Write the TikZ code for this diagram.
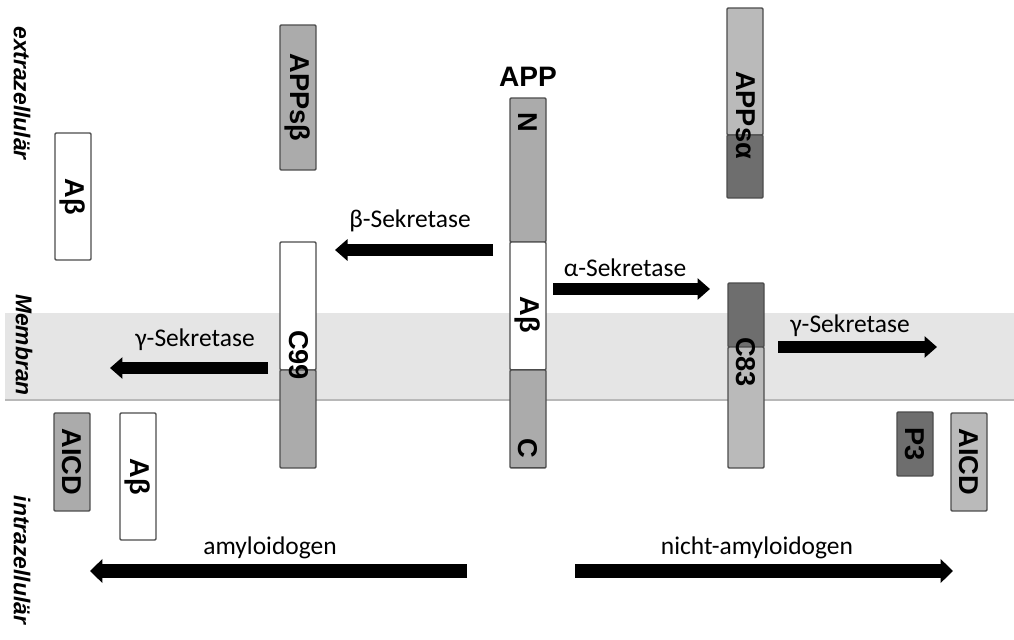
\documentclass[tikz,border=0pt]{standalone}
\usepackage{fontspec}
\setmainfont{Carlito}
\setsansfont{Liberation Sans}
\usetikzlibrary{arrows.meta}
\usetikzlibrary{positioning}
\tikzset{seg/.style = {draw=black!70, line width=0.8pt, rounded corners=0.6pt,
                       inner sep=0pt, outer sep=0pt, minimum width=0.72cm},
         midgray/.style = {seg, fill=black!33},
         lightgray/.style = {seg, fill=black!27},
         darkgray/.style = {seg, fill=black!57},
         whitebox/.style = {seg, fill=white},
         boxtext/.style = {font=\sffamily\bfseries\fontsize{15.5}{15.5}\selectfont,
                           rotate=-90, inner sep=0pt},
         zone/.style = {font=\sffamily\bfseries\itshape\fontsize{13}{13}\selectfont,
                        rotate=-90, inner sep=0pt},
         enz/.style = {font=\fontsize{14.5}{15}\selectfont, inner sep=0pt},
         fat/.style = {line width=6.4pt, -{Triangle[width=0.42cm,length=0.25cm]}},
         fatter/.style = {line width=7.8pt, -{Triangle[width=0.47cm,length=0.25cm]}}}

\begin{document}
\begin{tikzpicture}[x=0.02cm, y=-0.02cm]
      \useasboundingbox (0,0) rectangle (1014,639);

      % membrane band
      \fill [black!10] (5,313) rectangle (1014,400);
      \draw [black!28, line width=0.8pt] (5,400) -- (1014,400);

      \node [zone] (extra) at (22,93) {extrazellulär};
      \node [zone] (membran) at (24,345) {Membran};
      \node [zone] (intra) at (22,560) {intrazellulär};

      % APP
      \node [font=\sffamily\bfseries\fontsize{16}{16}\selectfont] (applabel) at (528,77) {APP};
      \node [midgray, minimum height=2.88cm, anchor=north west] (appN) at (510,98) {};
      \node [whitebox, minimum height=2.56cm, below=0pt of appN] (appAb) {};
      \node [midgray, minimum height=1.96cm, below=0pt of appAb] (appC) {};
      \node [boxtext] (appNtext) at (528,122) {N};
      \node [boxtext] (appAbtext) at (528,315) {Aβ};
      \node [boxtext] (appCtext) at (528,448) {C};

      % amyloidogen
      \node [midgray, minimum height=2.9cm, anchor=north west] (appsb) at (280,25) {};
      \node [boxtext] (appsbtext) at (appsb.center) {APPsβ};
      \node [whitebox, minimum height=2.56cm, anchor=north west] (cnnTop) at (280,242) {};
      \node [midgray, minimum height=1.96cm, below=0pt of cnnTop] (cnnBot) {};
      \node [boxtext] (cnntext) at (299,355) {C99};
      \node [whitebox, minimum height=2.54cm, anchor=north west] (abOut) at (55,133) {};
      \node [boxtext] (abOuttext) at (abOut.center) {Aβ};
      \node [midgray, minimum height=1.96cm, anchor=north west] (aicdL) at (54,413) {};
      \node [boxtext] (aicdLtext) at (aicdL.center) {AICD};
      \node [whitebox, minimum height=2.54cm, anchor=north west] (abIn) at (120,413) {};
      \node [boxtext] (abIntext) at (abIn.center) {Aβ};

      % nicht-amyloidogen
      \node [lightgray, minimum height=2.54cm, anchor=north west] (appsaTop) at (727,8) {};
      \node [darkgray, minimum height=1.26cm, below=0pt of appsaTop] (appsaBot) {};
      \node [boxtext] (appsatext) at (746,115) {APPsα};
      \node [darkgray, minimum height=1.28cm, anchor=north west] (ceTop) at (728,283) {};
      \node [lightgray, minimum height=2.42cm, below=0pt of ceTop] (ceBot) {};
      \node [boxtext] (cetext) at (746,362) {C83};
      \node [darkgray, minimum height=1.28cm, anchor=north west] (pthree) at (897,412) {};
      \node [boxtext] (pthreetext) at (pthree.center) {P3};
      \node [lightgray, minimum height=1.96cm, anchor=north west] (aicdR) at (951,413) {};
      \node [boxtext] (aicdRtext) at (aicdR.center) {AICD};

      % secretase arrows
      \coordinate (betaS) at (493,250);
      \coordinate (betaE) at (335,250);
      \draw [fat] (betaS) -- (betaE);
      \node [enz] (betalabel) at (410,221) {β-Sekretase};

      \coordinate (alphaS) at (553,289);
      \coordinate (alphaE) at (710,289);
      \draw [fat] (alphaS) -- (alphaE);
      \node [enz] (alphalabel) at (625,268) {α-Sekretase};

      \coordinate (gammaLS) at (268,368);
      \coordinate (gammaLE) at (110,368);
      \draw [fat] (gammaLS) -- (gammaLE);
      \node [enz] (gammaLlabel) at (195,340) {γ-Sekretase};

      \coordinate (gammaRS) at (778,347);
      \coordinate (gammaRE) at (937,347);
      \draw [fat] (gammaRS) -- (gammaRE);
      \node [enz] (gammaRlabel) at (850,326) {γ-Sekretase};

      % pathways
      \coordinate (amyS) at (467,571);
      \coordinate (amyE) at (90,571);
      \draw [fatter] (amyS) -- (amyE);
      \node [enz] (amylabel) at (270,548) {amyloidogen};

      \coordinate (nonS) at (575,571);
      \coordinate (nonE) at (953,571);
      \draw [fatter] (nonS) -- (nonE);
      \node [enz] (nonlabel) at (757,548) {nicht-amyloidogen};
    \end{tikzpicture}
\end{document}
